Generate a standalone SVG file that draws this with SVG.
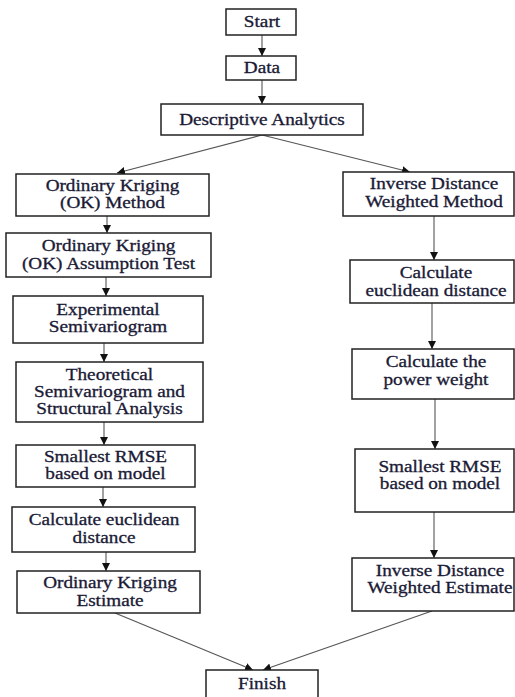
<svg xmlns="http://www.w3.org/2000/svg" width="515" height="697" viewBox="0 0 515 697">
<defs>
<marker id="ah" markerUnits="userSpaceOnUse" markerWidth="9" markerHeight="8" refX="8" refY="4" orient="auto">
<path d="M0,0 L8,4 L0,8 z" fill="#111"/>
</marker>
<style>
.box{fill:#fff;stroke:#222;stroke-width:1.5}
.lbl{font-family:"Liberation Serif","Times New Roman",serif;font-size:16px;fill:#1a1a36;stroke:#1a1a36;stroke-width:0.3;text-anchor:middle}
.c{stroke:#555;stroke-width:1.1;fill:none;marker-end:url(#ah)}
</style>
</defs>
<rect width="515" height="697" fill="#fff"/>
<g id="connectors">
<line class="c" x1="262" y1="35" x2="262" y2="56"/>
<line class="c" x1="262" y1="80" x2="262" y2="104"/>
<line class="c" x1="262" y1="135" x2="117" y2="173"/>
<line class="c" x1="262" y1="135" x2="410" y2="172"/>
<line class="c" x1="107" y1="216" x2="107" y2="233"/>
<line class="c" x1="106" y1="277" x2="106" y2="296"/>
<line class="c" x1="104" y1="343" x2="104" y2="362"/>
<line class="c" x1="104" y1="422" x2="104" y2="445"/>
<line class="c" x1="103" y1="487" x2="103" y2="507"/>
<line class="c" x1="106" y1="552" x2="106" y2="571"/>
<line class="c" x1="115" y1="613" x2="253" y2="670"/>
<line class="c" x1="434" y1="216" x2="434" y2="260"/>
<line class="c" x1="432" y1="303" x2="432" y2="349"/>
<line class="c" x1="435" y1="399" x2="435" y2="449"/>
<line class="c" x1="434" y1="512" x2="434" y2="558"/>
<line class="c" x1="432" y1="611" x2="263" y2="670"/>
</g>
<g id="start"><rect class="box" x="226" y="9" width="70" height="26"/><text class="lbl" transform="scale(1.2 1)" x="218.33" y="27">Start</text></g>
<g id="data"><rect class="box" x="226" y="56" width="70" height="24"/><text class="lbl" transform="scale(1.2 1)" x="218.33" y="73">Data</text></g>
<g id="descriptive"><rect class="box" x="161" y="104" width="202" height="31"/><text class="lbl" transform="scale(1.2 1)" x="218.33" y="125">Descriptive Analytics</text></g>
<g id="ok-method"><rect class="box" x="16" y="174" width="193" height="42"/><text class="lbl" transform="scale(1.2 1)" x="93.75" y="191">Ordinary Kriging</text><text class="lbl" transform="scale(1.2 1)" x="93.75" y="208">(OK) Method</text></g>
<g id="ok-assumption"><rect class="box" x="6" y="233" width="205" height="44"/><text class="lbl" transform="scale(1.2 1)" x="90.42" y="251">Ordinary Kriging</text><text class="lbl" transform="scale(1.2 1)" x="90.42" y="269">(OK) Assumption Test</text></g>
<g id="experimental"><rect class="box" x="13" y="296" width="190" height="47"/><text class="lbl" transform="scale(1.2 1)" x="90" y="315">Experimental</text><text class="lbl" transform="scale(1.2 1)" x="90" y="332">Semivariogram</text></g>
<g id="theoretical"><rect class="box" x="16" y="362" width="187" height="60"/><text class="lbl" transform="scale(1.2 1)" x="91.25" y="380">Theoretical</text><text class="lbl" transform="scale(1.2 1)" x="91.25" y="397">Semivariogram and</text><text class="lbl" transform="scale(1.2 1)" x="91.25" y="414">Structural Analysis</text></g>
<g id="ok-rmse"><rect class="box" x="16" y="445" width="179" height="42"/><text class="lbl" transform="scale(1.2 1)" x="87.92" y="462">Smallest RMSE</text><text class="lbl" transform="scale(1.2 1)" x="87.92" y="479">based on model</text></g>
<g id="ok-euclid"><rect class="box" x="12" y="507" width="183" height="45"/><text class="lbl" transform="scale(1.2 1)" x="86.67" y="525">Calculate euclidean</text><text class="lbl" transform="scale(1.2 1)" x="86.67" y="543">distance</text></g>
<g id="ok-estimate"><rect class="box" x="17" y="571" width="183" height="42"/><text class="lbl" transform="scale(1.2 1)" x="91.67" y="588">Ordinary Kriging</text><text class="lbl" transform="scale(1.2 1)" x="91.67" y="606">Estimate</text></g>
<g id="idw-method"><rect class="box" x="343" y="172" width="171" height="44"/><text class="lbl" transform="scale(1.2 1)" x="361.67" y="189">Inverse Distance</text><text class="lbl" transform="scale(1.2 1)" x="361.67" y="207">Weighted Method</text></g>
<g id="idw-euclid"><rect class="box" x="350" y="260" width="164" height="43"/><text class="lbl" transform="scale(1.2 1)" x="363.33" y="278">Calculate</text><text class="lbl" transform="scale(1.2 1)" x="363.33" y="296">euclidean distance</text></g>
<g id="idw-power"><rect class="box" x="352" y="349" width="162" height="50"/><text class="lbl" transform="scale(1.2 1)" x="363.33" y="367">Calculate the</text><text class="lbl" transform="scale(1.2 1)" x="363.33" y="385">power weight</text></g>
<g id="idw-rmse"><rect class="box" x="355" y="449" width="159" height="63"/><text class="lbl" transform="scale(1.2 1)" x="366.67" y="472">Smallest RMSE</text><text class="lbl" transform="scale(1.2 1)" x="366.67" y="489">based on model</text></g>
<g id="idw-estimate"><rect class="box" x="352" y="558" width="162" height="53"/><text class="lbl" transform="scale(1.2 1)" x="366.67" y="576">Inverse Distance</text><text class="lbl" transform="scale(1.2 1)" x="366.67" y="593">Weighted Estimate</text></g>
<g id="finish"><rect class="box" x="206" y="670" width="112" height="30"/><text class="lbl" transform="scale(1.2 1)" x="218.33" y="689">Finish</text></g>
</svg>
